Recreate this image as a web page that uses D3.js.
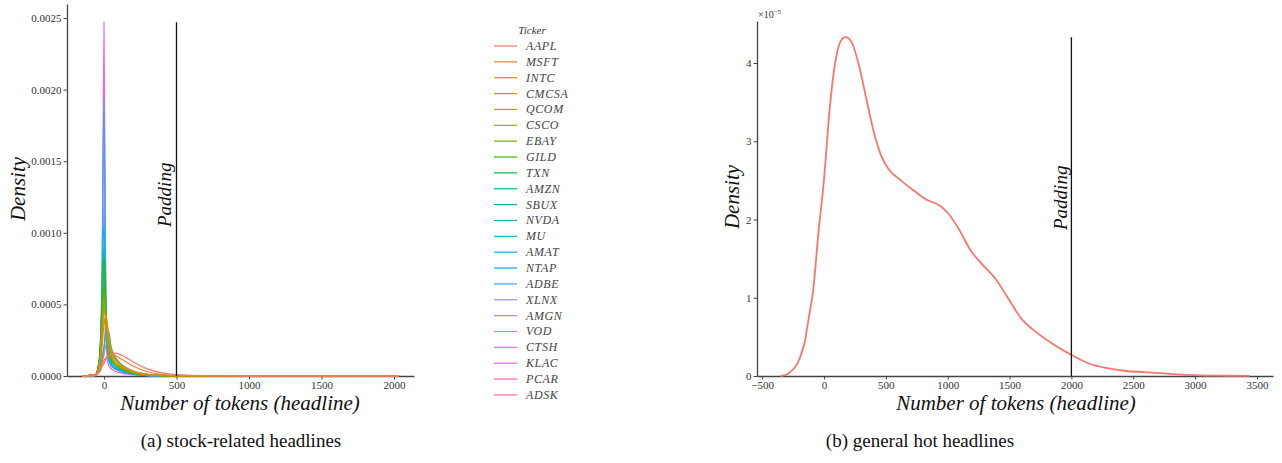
<!DOCTYPE html>
<html>
<head>
<meta charset="utf-8">
<script src="https://cdn.jsdelivr.net/npm/d3@7"></script>
<style>
  body { margin: 0; background: #fff; }
  text { font-family: "Liberation Serif", "DejaVu Serif", serif; }
</style>
</head>
<body>
<svg id="fig" width="1282" height="463"></svg>
<script>
// tickers, in legend order
const tickers = ["AAPL", "MSFT", "INTC", "CMCSA", "QCOM", "CSCO", "EBAY", "GILD", "TXN", "AMZN", "SBUX",
  "NVDA", "MU", "AMAT", "NTAP", "ADBE", "XLNX", "AMGN", "VOD", "CTSH", "KLAC", "PCAR", "ADSK"];

// token counts where the stock densities are read (x of left panel)
const stockTokens = [-150, -60, -30, -15, 0, 15, 30, 50, 75, 100, 150, 200, 300, 400, 500, 700, 1000, 1500, 2030];

// densities, in units of 1e-4
const densAAPL  = [0, 0.05, 0.3, 0.6, 0.9, 1.2, 1.4, 1.55, 1.6, 1.55, 1.3, 1.0, 0.5, 0.22, 0.1, 0.03, 0.01, 0.005, 0.002];
const densMSFT  = [0, 0.1, 0.4, 0.8, 1.1, 1.3, 1.45, 1.5, 1.45, 1.3, 1.0, 0.7, 0.3, 0.12, 0.05, 0.02, 0.008, 0.003, 0];
const densINTC  = [0, 0.1, 0.8, 2.5, 4.6, 3.8, 2.6, 1.7, 1.2, 0.9, 0.55, 0.3, 0.1, 0.04, 0.02, 0.01, 0, 0, 0];
const densCMCSA = [0, 0.1, 0.6, 1.8, 3.6, 4.2, 3.0, 1.9, 1.3, 0.95, 0.6, 0.35, 0.12, 0.05, 0.02, 0.01, 0, 0, 0];
const densQCOM  = [0, 0.1, 0.7, 2.6, 4.0, 3.2, 2.2, 1.5, 1.1, 0.8, 0.5, 0.3, 0.1, 0.04, 0.02, 0.01, 0, 0, 0];
const densCSCO  = [0, 0.1, 0.9, 3.0, 5.2, 3.5, 2.0, 1.3, 0.9, 0.7, 0.45, 0.25, 0.08, 0.03, 0.01, 0, 0, 0, 0];
const densEBAY  = [0, 0.1, 1.0, 3.5, 6.0, 3.8, 2.0, 1.2, 0.85, 0.65, 0.4, 0.22, 0.07, 0.03, 0.01, 0, 0, 0, 0];
const densGILD  = [0, 0.1, 1.2, 4.5, 8.3, 4.2, 2.0, 1.1, 0.8, 0.6, 0.35, 0.2, 0.06, 0.02, 0.01, 0, 0, 0, 0];
const densTXN   = [0, 0.1, 1.1, 3.8, 6.3, 4.0, 2.2, 1.3, 0.9, 0.65, 0.4, 0.22, 0.07, 0.03, 0.01, 0, 0, 0, 0];
const densAMZN  = [0, 0.1, 0.9, 3.2, 5.0, 3.6, 2.1, 1.3, 0.9, 0.7, 0.42, 0.24, 0.08, 0.03, 0.01, 0, 0, 0, 0];
const densSBUX  = [0, 0.1, 1.2, 4.2, 7.2, 4.0, 1.9, 1.1, 0.8, 0.6, 0.35, 0.2, 0.06, 0.02, 0.01, 0, 0, 0, 0];
const densNVDA  = [0, 0.05, 0.4, 1.2, 2.0, 3.0, 3.2, 2.0, 1.4, 1.0, 0.6, 0.35, 0.12, 0.05, 0.02, 0.01, 0, 0, 0];
const densMU    = [0, 0.1, 1.5, 5.0, 10.7, 4.0, 1.6, 0.9, 0.6, 0.45, 0.28, 0.15, 0.05, 0.02, 0.01, 0, 0, 0, 0];
const densAMAT  = [0, 0.1, 1.3, 4.8, 9.0, 3.6, 1.5, 0.85, 0.6, 0.45, 0.28, 0.15, 0.05, 0.02, 0.01, 0, 0, 0, 0];
const densNTAP  = [0, 0.1, 1.2, 4.3, 8.0, 3.4, 1.5, 0.9, 0.65, 0.5, 0.3, 0.16, 0.05, 0.02, 0.01, 0, 0, 0, 0];
const densADBE  = [0, 0.05, 1.0, 6.0, 19.5, 3.5, 1.2, 0.7, 0.5, 0.38, 0.22, 0.12, 0.04, 0.015, 0.005, 0, 0, 0, 0];
const densXLNX  = [0, 0.05, 1.0, 5.5, 17.0, 3.2, 1.2, 0.7, 0.5, 0.38, 0.22, 0.12, 0.04, 0.015, 0.005, 0, 0, 0, 0];
const densAMGN  = [0, 0.05, 1.2, 4.8, 12.0, 3.6, 1.3, 0.75, 0.5, 0.38, 0.22, 0.12, 0.04, 0.015, 0.005, 0, 0, 0, 0];
const densVOD   = [0, 0.05, 1.0, 4.0, 9.0, 3.2, 1.3, 0.8, 0.55, 0.4, 0.24, 0.13, 0.04, 0.015, 0.005, 0, 0, 0, 0];
const densCTSH  = [0, 0.05, 0.3, 1.0, 2.0, 4.0, 2.6, 1.4, 0.9, 0.6, 0.35, 0.2, 0.06, 0.02, 0.01, 0, 0, 0, 0];
const densKLAC  = [0, 0.03, 0.5, 3.0, 24.7, 2.5, 0.8, 0.5, 0.35, 0.25, 0.15, 0.08, 0.03, 0.01, 0.005, 0, 0, 0, 0];
const densPCAR  = [0, 0.05, 0.6, 2.5, 6.0, 3.0, 1.5, 0.9, 0.6, 0.45, 0.28, 0.15, 0.05, 0.02, 0.01, 0, 0, 0, 0];
const densADSK  = [0, 0.05, 0.3, 0.8, 1.5, 2.2, 2.5, 1.8, 1.3, 1.0, 0.6, 0.35, 0.12, 0.05, 0.02, 0.01, 0, 0, 0];

const stockDens = [densAAPL, densMSFT, densINTC, densCMCSA, densQCOM, densCSCO, densEBAY, densGILD, densTXN,
  densAMZN, densSBUX, densNVDA, densMU, densAMAT, densNTAP, densADBE, densXLNX, densAMGN, densVOD, densCTSH,
  densKLAC, densPCAR, densADSK];

// general hot headlines: token count and density (units of 1e-5)
const hotTokens  = [-352, -300, -272, -240, -208, -180, -152, -139, -115, -90, -45, 0, 45, 90, 135, 174, 225, 284,
  344, 404, 464, 524, 614, 734, 823, 943, 1003, 1093, 1183, 1272, 1392, 1482, 1602, 1692, 1841, 2000, 2141, 2290,
  2440, 2590, 2740, 2889, 3039, 3200, 3440];
const hotDensity = [0, 0.02, 0.055, 0.10, 0.18, 0.30, 0.46, 0.59, 0.82, 1.06, 1.83, 2.51, 3.40, 4.0, 4.28, 4.33,
  4.26, 3.96, 3.53, 3.11, 2.81, 2.64, 2.51, 2.36, 2.26, 2.17, 2.08, 1.87, 1.61, 1.44, 1.23, 1.01, 0.72, 0.59, 0.42,
  0.27, 0.16, 0.10, 0.064, 0.05, 0.034, 0.017, 0.008, 0.004, 0.002];

const paddingStock = 500;
const paddingHot = 2000;
const stockYTicks = [0, 5, 10, 15, 20, 25];
const stockXTicks = [0, 500, 1000, 1500, 2000];
const hotXTicks = [-500, 0, 500, 1000, 1500, 2000, 2500, 3000, 3500];
const hotYTicks = [0, 1, 2, 3, 4];

// ggplot-style hue palette (polar LUV -> sRGB)
function hclLuv(h, c, l) {
  const Xn = 95.047, Yn = 100, Zn = 108.883;
  const un = 4 * Xn / (Xn + 15 * Yn + 3 * Zn), vn = 9 * Yn / (Xn + 15 * Yn + 3 * Zn);
  const hr = h * Math.PI / 180, U = c * Math.cos(hr), V = c * Math.sin(hr);
  const Y = l > 8 ? Yn * Math.pow((l + 16) / 116, 3) : Yn * l / 903.3;
  const up = U / (13 * l) + un, vp = V / (13 * l) + vn;
  const X = 9 * Y * up / (4 * vp), Z = -X / 3 - 5 * Y + 3 * Y / vp;
  const x = X / 100, y = Y / 100, z = Z / 100;
  const lin = [3.2406 * x - 1.5372 * y - 0.4986 * z, -0.9689 * x + 1.8758 * y + 0.0415 * z,
    0.0557 * x - 0.2040 * y + 1.0570 * z];
  const g = lin.map(v => {
    v = Math.max(0, Math.min(1, v));
    return Math.round(255 * (v <= 0.0031308 ? 12.92 * v : 1.055 * Math.pow(v, 1 / 2.4) - 0.055));
  });
  return d3.rgb(g[0], g[1], g[2]).formatHex();
}
const palette = tickers.map((t, i) => hclLuv(15 + 360 * i / tickers.length, 100, 65));

const svg = d3.select("#fig");
const axisColor = "#444";

function styleAxis(g) {
  g.attr("font-family", "Liberation Serif, DejaVu Serif, serif").attr("font-size", 11);
  g.select(".domain").attr("stroke", axisColor).attr("stroke-width", 1.3);
  g.selectAll(".tick line").attr("stroke", axisColor).attr("stroke-width", 1);
  g.selectAll(".tick text").attr("fill", "#333");
}

// ---------- panel (a) ----------
const xA = d3.scaleLinear().domain([-255, 2138]).range([67, 414]);
const yA = d3.scaleLinear().domain([0, 25.98]).range([376, 4]);

svg.append("g").attr("transform", "translate(0,376)")
  .call(d3.axisBottom(xA).tickValues(stockXTicks).tickSize(3.5).tickSizeOuter(0).tickPadding(2)
    .tickFormat(d3.format("d")))
  .call(styleAxis);
svg.append("g").attr("transform", "translate(67,0)")
  .call(d3.axisLeft(yA).tickValues(stockYTicks).tickSize(3.5).tickSizeOuter(0).tickPadding(2)
    .tickFormat(d => (d / 1e4).toFixed(4)))
  .call(styleAxis);

// drawn last ticker first, so the first tickers sit on top
const lineA = d3.line().x((d, i) => xA(stockTokens[i])).y(d => yA(d)).curve(d3.curveMonotoneX);
const order = d3.range(tickers.length).reverse();
svg.append("g").selectAll("path").data(order).join("path")
  .attr("d", i => lineA(stockDens[i])).attr("fill", "none")
  .attr("stroke", i => palette[i]).attr("stroke-width", 1.2);

const maxA = d3.max(stockDens, s => d3.max(s));
svg.append("line").attr("x1", xA(paddingStock)).attr("x2", xA(paddingStock))
  .attr("y1", yA(maxA)).attr("y2", yA(0)).attr("stroke", "#111").attr("stroke-width", 1.3);
svg.append("text").attr("transform", `translate(${xA(paddingStock) - 5},227) rotate(-90)`)
  .style("font-size", "19px").style("font-style", "italic").attr("fill", "#111").text("Padding");

svg.append("text").attr("transform", "translate(25,189) rotate(-90)").attr("text-anchor", "middle")
  .style("font-size", "21px").style("font-style", "italic").attr("fill", "#111").text("Density");
svg.append("text").attr("x", 240).attr("y", 410).attr("text-anchor", "middle")
  .style("font-size", "21px").style("font-style", "italic").attr("fill", "#111")
  .text("Number of tokens (headline)");

// legend
const leg = svg.append("g");
leg.append("text").attr("x", 532).attr("y", 34).attr("text-anchor", "middle")
  .style("font-size", "11px").style("font-style", "italic").attr("fill", "#333").text("Ticker");
const items = leg.selectAll("g.item").data(tickers).join("g").attr("class", "item")
  .attr("transform", (d, i) => `translate(0,${46 + i * 15.86})`);
items.append("line").attr("x1", 494).attr("x2", 517).attr("stroke", (d, i) => palette[i]).attr("stroke-width", 1.2);
items.append("text").attr("x", 526).attr("y", 4).style("font-size", "12px").style("font-style", "italic")
  .style("letter-spacing", "0.6px").attr("fill", "#444").text(d => d);

svg.append("text").attr("x", 241).attr("y", 447).attr("text-anchor", "middle")
  .style("font-size", "19px").attr("fill", "#111").text("(a) stock-related headlines");

// ---------- panel (b) ----------
const xB = d3.scaleLinear().domain([-541.6, 3629.7]).range([757, 1273]);
const yB = d3.scaleLinear().domain([0, 4.537]).range([376, 21]);

svg.append("g").attr("transform", "translate(0,376)")
  .call(d3.axisBottom(xB).tickValues(hotXTicks).tickSize(3.5).tickSizeOuter(0).tickPadding(2)
    .tickFormat(d => d < 0 ? "\u2212" + Math.abs(d) : String(d)))
  .call(styleAxis);
svg.append("g").attr("transform", "translate(757,0)")
  .call(d3.axisLeft(yB).tickValues(hotYTicks).tickSize(3.5).tickSizeOuter(0).tickPadding(2)
    .tickFormat(d3.format("d")))
  .call(styleAxis);

const exp = svg.append("text").attr("x", 758).attr("y", 18).style("font-size", "10px").attr("fill", "#333");
exp.append("tspan").text("\u00d710");
exp.append("tspan").attr("dy", -4).style("font-size", "7px").text("\u22125");

const lineB = d3.line().x((d, i) => xB(hotTokens[i])).y(d => yB(d)).curve(d3.curveMonotoneX);
svg.append("path").datum(hotDensity).attr("d", lineB).attr("fill", "none")
  .attr("stroke", palette[0]).attr("stroke-width", 1.8);

const maxB = d3.max(hotDensity);
svg.append("line").attr("x1", xB(paddingHot)).attr("x2", xB(paddingHot))
  .attr("y1", yB(maxB)).attr("y2", yB(0)).attr("stroke", "#111").attr("stroke-width", 1.3);
svg.append("text").attr("transform", `translate(${xB(paddingHot) - 4},230) rotate(-90)`)
  .style("font-size", "19px").style("font-style", "italic").attr("fill", "#111").text("Padding");

svg.append("text").attr("transform", "translate(739,197) rotate(-90)").attr("text-anchor", "middle")
  .style("font-size", "21px").style("font-style", "italic").attr("fill", "#111").text("Density");
svg.append("text").attr("x", 1016).attr("y", 410).attr("text-anchor", "middle")
  .style("font-size", "21px").style("font-style", "italic").attr("fill", "#111")
  .text("Number of tokens (headline)");

svg.append("text").attr("x", 920).attr("y", 447).attr("text-anchor", "middle")
  .style("font-size", "19px").attr("fill", "#111").text("(b) general hot headlines");
</script>
</body>
</html>
